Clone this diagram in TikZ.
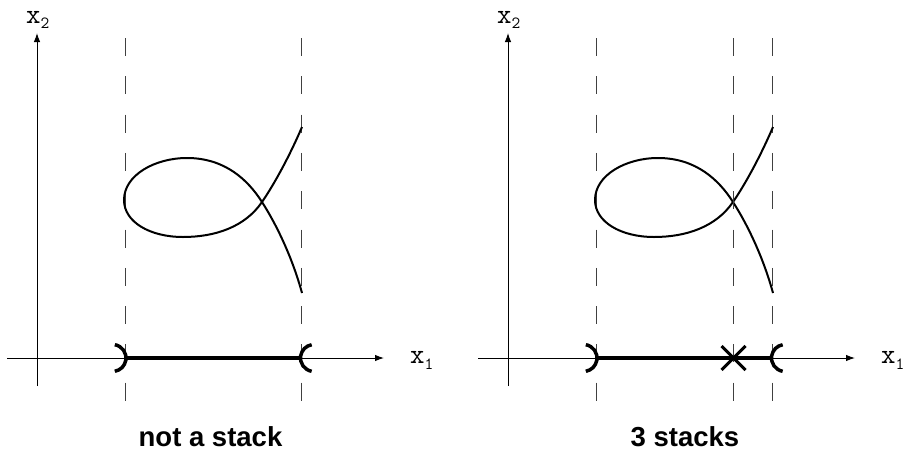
\documentclass[tikz,border=0pt]{standalone}
\usepackage{fontspec}
\setmainfont{Liberation Sans}
\usetikzlibrary{arrows.meta}
\begin{document}
\begin{tikzpicture}[x=1pt,y=-1pt,
 axis/.style={line width=1pt,-{Latex[length=9pt,width=6.5pt]}},
 guide/.style={line width=0.9pt, black!75, dash pattern=on 18pt off 20.3pt},
 curvestyle/.style={line width=2pt},
 segstyle/.style={line width=4pt},
 parenstyle/.style={line width=3.5pt},
 lab/.style={font=\fontsize{27.5}{30}\selectfont\bfseries, anchor=base, inner sep=0pt},
 var/.style={font=\ttfamily\fontsize{28}{28}\selectfont, anchor=base west, inner sep=0pt}]
\useasboundingbox (0,0) rectangle (903,453);
\foreach \o/\p in {0/L,471/R}{
  \begin{scope}[xshift=\o pt]
  % axes
  \coordinate (xs\p) at (7,358);
  \coordinate (xe\p) at (384,358);
  \coordinate (ys\p) at (37,386);
  \coordinate (ye\p) at (37,33);
  \draw[axis] (xs\p) -- (xe\p);
  \draw[axis] (ys\p) -- (ye\p);
  % guides
  \coordinate (ga\p) at (125,38);
  \coordinate (gb\p) at (125,412);
  \coordinate (gc\p) at (301.5,38);
  \coordinate (gd\p) at (301.5,412);
  \draw[guide] (ga\p) -- (gb\p);
  \draw[guide] (gc\p) -- (gd\p);
  % curve
  \coordinate (ct\p) at (302,127);
  \coordinate (cx\p) at (262,202);
  \coordinate (cb\p) at (183,237);
  \coordinate (cl\p) at (124,200);
  \coordinate (cu\p) at (187,158);
  \coordinate (ce\p) at (302,293);
  \draw[curvestyle] (ct\p) .. controls (290,155) and (275,183) .. (cx\p)
     .. controls (245,227) and (215,237) .. (cb\p)
     .. controls (150,237) and (124,222) .. (cl\p)
     .. controls (124,175) and (155,158) .. (cu\p)
     .. controls (225,158) and (248,180) .. (cx\p)
     .. controls (278,227) and (293,260) .. (ce\p);
  % parentheses
  \coordinate (pl\p) at (125,358);
  \coordinate (pr\p) at (301.5,358);
  \draw[parenstyle] ([shift={(-12.5,0)}]pl\p) ++(-80:13.5) arc[start angle=-80, end angle=80, radius=13.5];
  \draw[parenstyle] ([shift={(12.5,0)}]pr\p) ++(100:13.5) arc[start angle=100, end angle=260, radius=13.5];
  % labels
  \node[var] (x2\p) at (26,23) {x\raisebox{-5pt}{\fontsize{17}{17}\selectfont 2}};
  \node[var] (x1\p) at (410,363) {x\raisebox{-6pt}{\fontsize{17}{17}\selectfont 1}};
  \end{scope}
}
\draw[segstyle] (plL) -- (prL);
\draw[segstyle] (plR) -- (prR);
% extra guide in right panel
\coordinate (gx) at (733.5,38);
\coordinate (gy) at (733.5,412);
\draw[guide] (gx) -- (gy);
% cross
\coordinate (cc) at (733.5,358);
\draw[line width=3pt] ([shift={(-12,-12)}]cc) -- ([shift={(12,12)}]cc);
\draw[line width=3pt] ([shift={(-12,12)}]cc) -- ([shift={(12,-12)}]cc);
% captions
\node[lab] (capL) at (210.5,446) {not a stack};
\node[lab] (capR) at (685,446) {3 stacks};
\end{tikzpicture}
\end{document}
